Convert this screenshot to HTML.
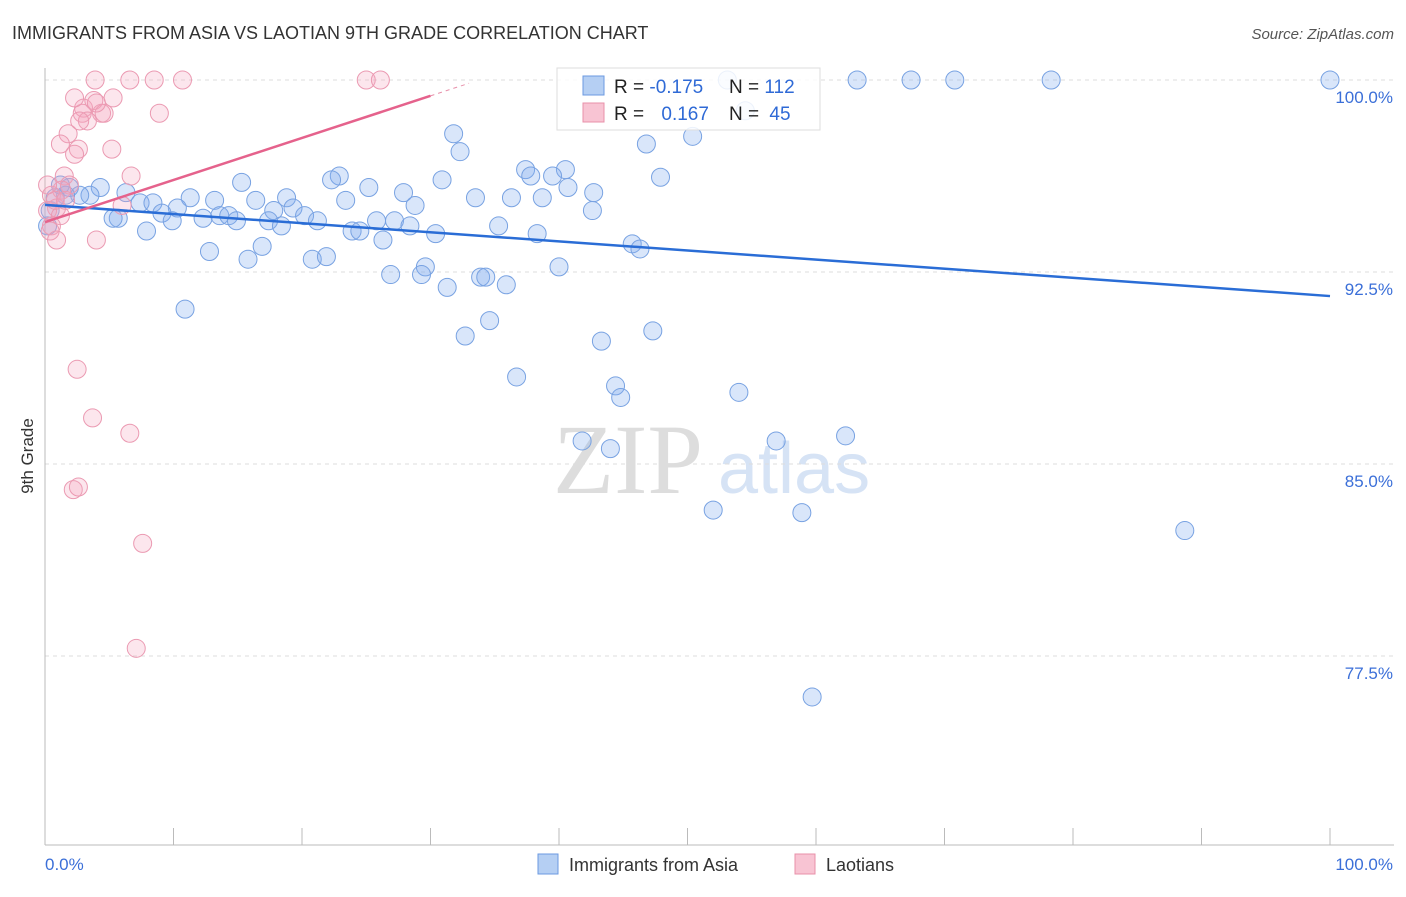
<!DOCTYPE html>
<html><head><meta charset="utf-8"><style>
body{margin:0;background:#fff;font-family:"Liberation Sans",sans-serif}
svg text{font-family:"Liberation Sans",sans-serif}
</style></head><body>
<svg id="c" width="1406" height="892" viewBox="0 0 1406 892">
<text x="12" y="39" font-size="18" fill="#333">IMMIGRANTS FROM ASIA VS LAOTIAN 9TH GRADE CORRELATION CHART</text>
<text x="1394" y="39" font-size="15" fill="#555" text-anchor="end" font-style="italic">Source: ZipAtlas.com</text>
<text x="33" y="456" font-size="17" fill="#333" text-anchor="middle" transform="rotate(-90 33 456)">9th Grade</text>
<g>
<text x="553" y="493" font-size="100" fill="#ddd" font-family="Liberation Serif" style="font-family:'Liberation Serif',serif">ZIP</text>
<text x="718" y="493" font-size="72" fill="#d6e3f5">atlas</text>
</g>
<g id="grid"></g><g id="marks"></g><g id="lines"></g>
<g>
<rect x="557" y="68" width="263" height="62" fill="rgba(255,255,255,0.85)" stroke="#ddd"/>
<rect x="583" y="76" width="21" height="19" fill="#b5cff3" stroke="#6b9ae0"/>
<rect x="583" y="103" width="21" height="19" fill="#f8c4d3" stroke="#e890aa"/>
<text x="614" y="93" font-size="19" fill="#222">R = <tspan fill="#2f6ad6">-0.175</tspan></text>
<text x="729" y="93" font-size="19" fill="#222">N = <tspan fill="#2f6ad6">112</tspan></text>
<text x="614" y="120" font-size="19" fill="#222">R = <tspan fill="#2f6ad6" dx="12">0.167</tspan></text>
<text x="729" y="120" font-size="19" fill="#222">N = <tspan fill="#2f6ad6" dx="5">45</tspan></text>
</g>
<g>
<rect x="538" y="854" width="20" height="20" fill="#b5cff3" stroke="#6b9ae0"/>
<text x="569" y="871" font-size="18" fill="#333">Immigrants from Asia</text>
<rect x="795" y="854" width="20" height="20" fill="#f8c4d3" stroke="#e890aa"/>
<text x="826" y="871" font-size="18" fill="#333">Laotians</text>
</g>
</svg>
<script>
const yTicks=[100,92.5,85,77.5];
const yTickLabels=["100.0%","92.5%","85.0%","77.5%"];
const xTickLabels=["0.0%","100.0%"];
const asiaX=[53.1,63.2,67.4,70.8,78.3,100,54.5,31.8,32.3,46.8,50.4,37.4,40.5,22.9,22.3,39.5,37.8,15.3,25.2,30.9,47.9,27.9,40.7,42.7,6.3,1.9,4.3,3.5,2.7,1.6,0.8,18.8,23.4,28.8,33.5,36.3,38.7,11.3,13.2,16.4,7.4,8.4,10.3,19.3,17.8,20.2,42.6,9.1,9.9,12.3,13.6,14.3,14.9,17.4,18.4,21.2,25.8,27.2,28.4,35.3,5.7,5.3,7.9,23.9,24.5,26.3,30.4,38.3,45.7,46.3,16.9,12.8,15.8,20.8,21.9,29.6,26.9,29.3,33.9,34.3,35.9,31.3,40.0,10.9,34.6,32.7,43.3,47.3,36.7,44.4,44.8,54.0,41.8,44.0,56.9,62.3,52.0,58.9,88.7,59.7,0.4,0.2,1.2];
const asiaY=[100,100,100,100,100,100,98.8,97.9,97.2,97.5,97.8,96.5,96.5,96.25,96.1,96.25,96.25,96.0,95.8,96.1,96.2,95.6,95.8,95.6,95.6,95.8,95.8,95.5,95.5,95.5,95.4,95.4,95.3,95.1,95.4,95.4,95.4,95.4,95.3,95.3,95.2,95.2,95.0,95.0,94.9,94.7,94.9,94.8,94.5,94.6,94.7,94.7,94.5,94.5,94.3,94.5,94.5,94.5,94.3,94.3,94.6,94.6,94.1,94.1,94.1,93.75,94.0,94.0,93.6,93.4,93.5,93.3,93.0,93.0,93.1,92.7,92.4,92.4,92.3,92.3,92.0,91.9,92.7,91.05,90.6,90.0,89.8,90.2,88.4,88.05,87.6,87.8,85.9,85.6,85.9,86.1,83.2,83.1,82.4,75.9,94.9,94.3,95.9];
const laoX=[3.9,6.6,8.5,10.7,25.0,26.1,3.0,3.8,5.3,2.9,4.4,3.3,4.6,8.9,5.2,1.8,1.2,2.6,2.3,6.7,1.5,1.9,1.3,0.5,0.9,0.2,1.2,0.5,0.4,0.9,4.0,6.0,2.5,3.7,6.6,2.2,2.6,7.6,7.1,0.8,1.6,0.2,2.7,2.3,4.0];
const laoY=[100,100,100,100,100,100,98.9,99.2,99.3,98.7,98.7,98.4,98.7,98.7,97.3,97.9,97.5,97.3,97.1,96.25,96.25,95.9,95.7,95.5,95.0,94.9,94.7,94.3,94.1,93.75,93.75,95.1,88.7,86.8,86.2,84.0,84.1,81.9,77.8,95.3,95.3,95.9,98.4,99.3,99.1];
const asiaTrend=[95.12,91.56];
const laoTrend=[94.45,99.38];
const NS="http://www.w3.org/2000/svg";
const X0=45,X1=1330;
const xs=v=>X0+(X1-X0)*v/100;
const ys=v=>80+(100-v)*25.6;
function mk(tag,attrs,parent){const e=document.createElementNS(NS,tag);for(const k in attrs)e.setAttribute(k,attrs[k]);parent.appendChild(e);return e;}
const grid=document.getElementById('grid'),marks=document.getElementById('marks'),lines=document.getElementById('lines');
yTicks.forEach((t,i)=>{
 const l=mk('line',{x1:45,x2:1394,y1:ys(t),y2:ys(t),stroke:'#ddd','stroke-dasharray':'4,4'},grid);
 
 
 const tx=mk('text',{x:1393,y:ys(t)+23,'font-size':17,fill:'#3b6fd8','text-anchor':'end'},grid);
 tx.textContent=yTickLabels[i];
 
 
});
const ax=mk('line',{x1:45,x2:45,y1:68,y2:845,stroke:'#bbb'},grid);


const bx=mk('line',{x1:45,x2:1394,y1:845,y2:845,stroke:'#bbb'},grid);


for(let i=1;i<=10;i++){const t=mk('line',{x1:xs(i*10),x2:xs(i*10),y1:828,y2:845,stroke:'#bbb'},grid);
 
 }
xTickLabels.forEach((s,i)=>{const t=mk('text',{x:i?1393:45,y:870,'font-size':17,fill:'#3b6fd8','text-anchor':i?'end':'start'},grid);t.textContent=s;
 
 });
asiaX.forEach((x,i)=>{const c=mk('circle',{cx:xs(x),cy:ys(asiaY[i]),r:9,fill:'rgba(130,172,238,0.3)',stroke:'#78a2e2','stroke-width':1},marks);
 
 });
laoX.forEach((x,i)=>{const c=mk('circle',{cx:xs(x),cy:ys(laoY[i]),r:9,fill:'rgba(245,165,192,0.28)',stroke:'#eb9ab2','stroke-width':1},marks);
 
 });
const bl=mk('line',{x1:xs(0),y1:ys(asiaTrend[0]),x2:xs(100),y2:ys(asiaTrend[1]),stroke:'#2a6dd6','stroke-width':2.5},lines);


const slope=(laoTrend[1]-laoTrend[0])/30;
const pl=mk('line',{x1:xs(0),y1:ys(laoTrend[0]),x2:xs(30),y2:ys(laoTrend[1]),stroke:'#e5628c','stroke-width':2.5},lines);


const pd=mk('line',{x1:xs(30),y1:ys(laoTrend[1]),x2:xs(33),y2:ys(laoTrend[0]+slope*33),stroke:'#e890aa','stroke-width':1,'stroke-dasharray':'4,4'},lines);


</script>
</body></html>
